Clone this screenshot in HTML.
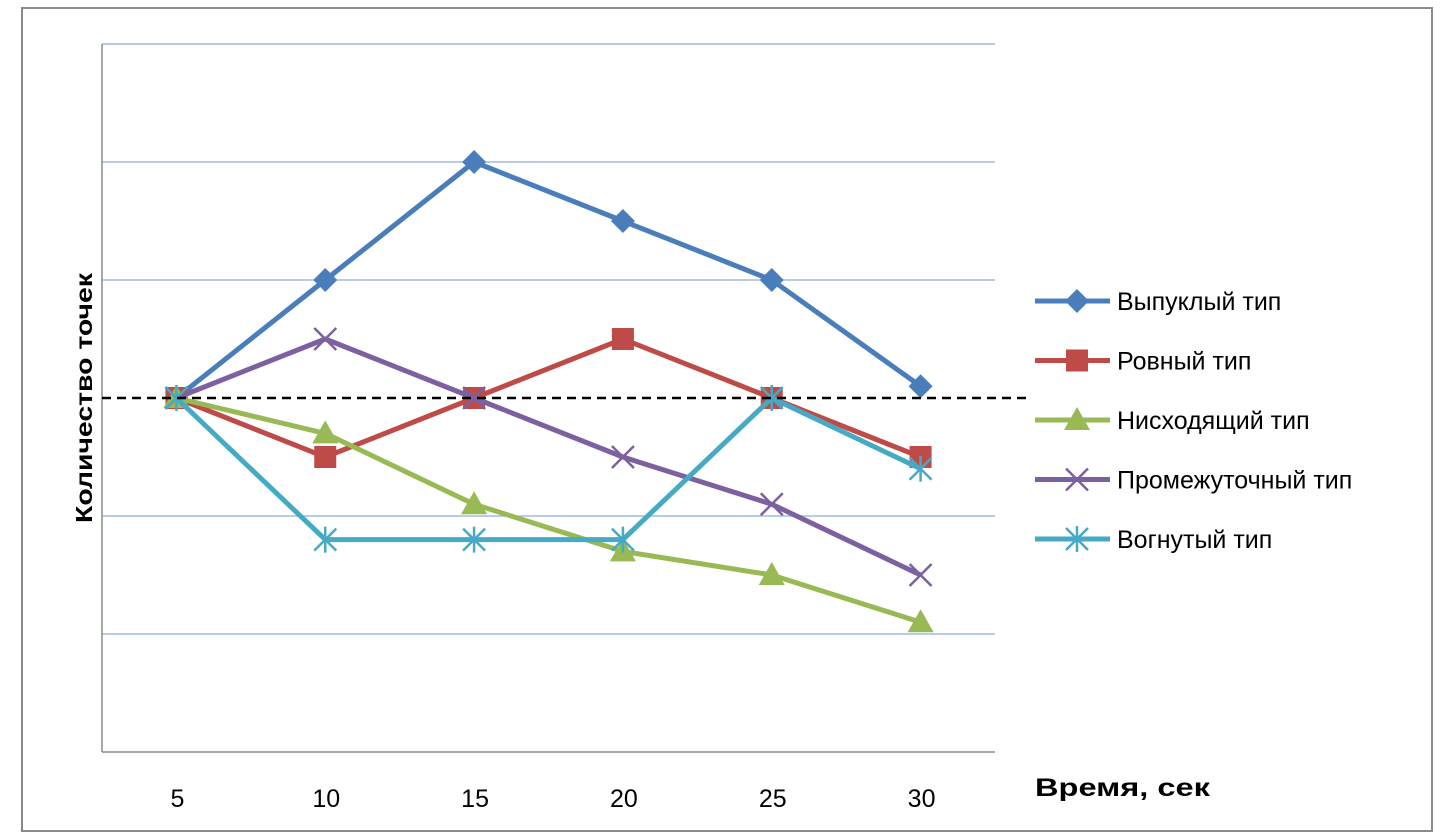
<!DOCTYPE html>
<html><head><meta charset="utf-8"><style>
html,body{margin:0;padding:0;background:#fff;}
svg{display:block;font-family:"Liberation Sans","DejaVu Sans",sans-serif;}
</style></head><body>
<svg id="chart" width="1453" height="840" viewBox="0 0 1453 840">
<rect x="22" y="8" width="1410" height="823" fill="#fff" stroke="#8a8a8a" stroke-width="2"/>
<g id="grid"></g>
<g id="series"></g>
<g id="legend"></g>
<text x="1035" y="796" font-size="25" font-weight="bold" fill="#000" textLength="175" lengthAdjust="spacingAndGlyphs">Время, сек</text>
<text transform="translate(92,398) rotate(-90)" text-anchor="middle" font-size="23" font-weight="bold" fill="#000" textLength="250" lengthAdjust="spacingAndGlyphs">Количество точек</text>
</svg>
<script>
const categories = ["5","10","15","20","25","30"];
const seriesNames = ["Выпуклый тип","Ровный тип","Нисходящий тип","Промежуточный тип","Вогнутый тип"];
const convexValues = [3,4,5,4.5,4,3.1];
const flatValues = [3,2.5,3,3.5,3,2.5];
const descendingValues = [3,2.7,2.1,1.7,1.5,1.1];
const intermediateValues = [3,3.5,3,2.5,2.1,1.5];
const concaveValues = [3,1.8,1.8,1.8,3,2.4];
const referenceValue = 3;
const gridValues = [1,2,3,4,5,6];

const NS="http://www.w3.org/2000/svg";
const L=102,R=995,T=44,B=752,YMAX=6;
const bw=(R-L)/categories.length;
const xs=i=>L+bw*(i+0.5);
const ys=v=>B-(v/YMAX)*(B-T);
function mk(tag,attrs,parent){const e=document.createElementNS(NS,tag);for(const k in attrs)e.setAttribute(k,attrs[k]);parent.appendChild(e);return e;}
const grid=document.getElementById('grid'),ser=document.getElementById('series'),leg=document.getElementById('legend');
gridValues.forEach(v=>{if(v===referenceValue)return;const l=mk('line',{x1:L,x2:R,y1:ys(v),y2:ys(v),stroke:'#9fbbe2','stroke-width':1.5},grid);

});
const ax=mk('line',{x1:L,x2:L,y1:T,y2:B,stroke:'#8c8c8c','stroke-width':1.5},grid);


const bx=mk('line',{x1:L,x2:R,y1:B,y2:B,stroke:'#8c8c8c','stroke-width':1.5},grid);


categories.forEach((c,i)=>{const t=mk('text',{x:xs(i)+1,y:807,'text-anchor':'middle','font-size':25,fill:'#000'},grid);t.textContent=c;

});
const colors=['#4a7ebb','#be4b48','#98b954','#7d60a0','#46aac5'];
const marks=['diamond','square','triangle','x','star'];
const data=[convexValues,flatValues,descendingValues,intermediateValues,concaveValues];
function marker(type,x,y,col,p){
 if(type==='diamond')mk('polygon',{points:`${x},${y-12} ${x+12},${y} ${x},${y+12} ${x-12},${y}`,fill:col},p);
 else if(type==='square')mk('rect',{x:x-11,y:y-11,width:22,height:22,fill:col},p);
 else if(type==='triangle')mk('polygon',{points:`${x},${y-13} ${x+13},${y+10} ${x-13},${y+10}`,fill:col},p);
 else if(type==='x'){mk('path',{d:`M${x-11},${y-11}L${x+11},${y+11}M${x-11},${y+11}L${x+11},${y-11}`,stroke:col,'stroke-width':2.5},p);}
 else {mk('path',{d:`M${x-11},${y-11}L${x+11},${y+11}M${x-11},${y+11}L${x+11},${y-11}M${x},${y-13}L${x},${y+13}`,stroke:col,'stroke-width':2.5},p);}
}
const legendWidths=[150,123,231,262,185];
data.forEach((vals,s)=>{
 const g=mk('g',{},ser);
 
 
 mk('polyline',{points:vals.map((v,i)=>xs(i)+','+ys(v)).join(' '),fill:'none',stroke:colors[s],'stroke-width':5,'stroke-linejoin':'round'},g);
 vals.forEach((v,i)=>marker(marks[s],xs(i),ys(v),colors[s],g));
 const ly=301+s*59.5;
 const lg=mk('g',{},leg);
 
 
 mk('line',{x1:1035,x2:1110,y1:ly,y2:ly,stroke:colors[s],'stroke-width':5},lg);
 marker(marks[s],1077,ly,colors[s],lg);
 const t=mk('text',{x:1117,y:ly+9,'font-size':25,fill:'#000'},lg);t.textContent=seriesNames[s];
});
const ref=mk('line',{x1:L,x2:1032,y1:ys(referenceValue),y2:ys(referenceValue),stroke:'#000','stroke-width':2.5,'stroke-dasharray':'9,6'},ser);


</script>
</body></html>
